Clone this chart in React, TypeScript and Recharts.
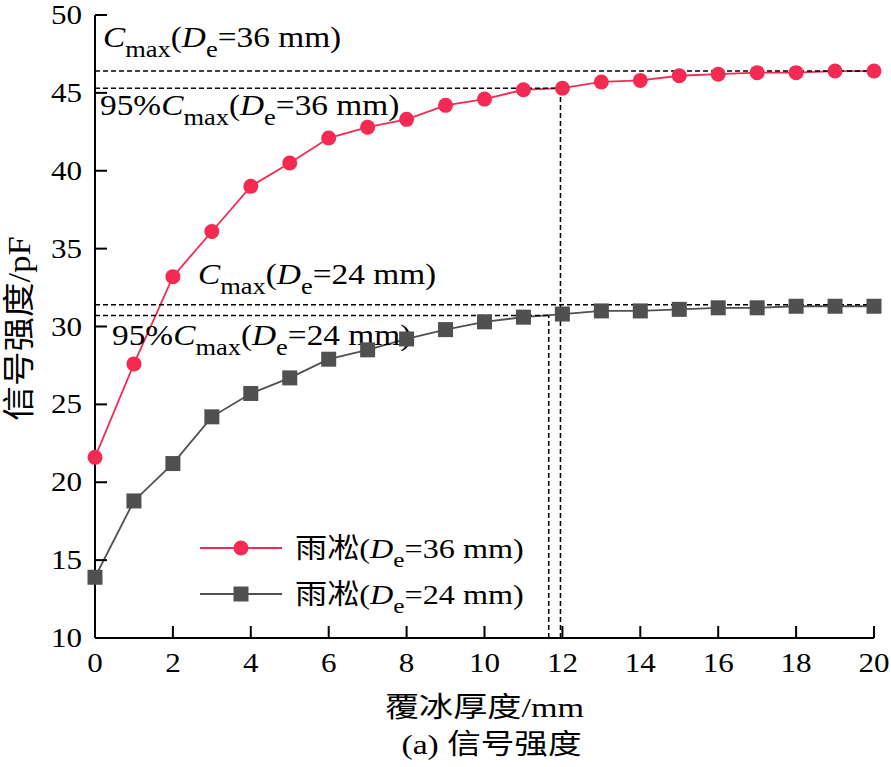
import React from 'react';
import { LineChart, Line, XAxis, YAxis, ReferenceLine, Legend } from 'recharts';

// ---- data ----
const thickness = [0, 1, 2, 3, 4, 5, 6, 7, 8, 9, 10, 11, 12, 13, 14, 15, 16, 17, 18, 19, 20];
const rime36 = [21.6, 27.6, 33.2, 36.1, 39.0, 40.5, 42.1, 42.8, 43.3, 44.2, 44.6, 45.2, 45.3, 45.7, 45.8, 46.1, 46.2, 46.3, 46.3, 46.4, 46.4];
const rime24 = [13.9, 18.8, 21.2, 24.2, 25.7, 26.7, 27.9, 28.5, 29.2, 29.8, 30.3, 30.6, 30.8, 31.0, 31.0, 31.1, 31.2, 31.2, 31.3, 31.3, 31.3];
const xTicks = [0, 2, 4, 6, 8, 10, 12, 14, 16, 18, 20];
const yTicks = [10, 15, 20, 25, 30, 35, 40, 45, 50];
const seriesNames = ['雨凇(De=36 mm)', '雨凇(De=24 mm)'];
const cmax36 = 46.4;
const p95of36 = 45.3;
const xAt95of36 = 11.95;
const cmax24 = 31.4;
const p95of24 = 30.7;
const xAt95of24 = 11.65;
const xLabel = '覆冰厚度/mm';
const yLabel = '信号强度/pF';
const caption = '(a) 信号强度';

const data = thickness.map((t, i) => ({ t, a: rime36[i], b: rime24[i] }));

const RED = '#F42A52';
const GRAY = '#505050';
const SERIF = "'Liberation Serif', 'Noto Sans CJK SC', serif";
const SX = 1.15;

const YTick = (props: any) => {
  const { x, y, payload } = props;
  const ax = x + 10;
  return (
    <g>
      <line x1={ax} x2={ax + 12} y1={y} y2={y} stroke="#000" strokeWidth={2} />
      <g transform={`translate(${x - 3},${y + 9}) scale(${SX},1)`}>
        <text x={0} y={0} textAnchor="end" fontFamily={SERIF} fontSize={27} fill="#000">{payload.value}</text>
      </g>
    </g>
  );
};

const XTick = (props: any) => {
  const { x, y, payload } = props;
  const ay = y - 10;
  return (
    <g>
      <line x1={x} x2={x} y1={ay} y2={ay - 12} stroke="#000" strokeWidth={2} />
      <g transform={`translate(${x},${ay + 34}) scale(${SX},1)`}>
        <text x={0} y={0} textAnchor="middle" fontFamily={SERIF} fontSize={27} fill="#000">{payload.value}</text>
      </g>
    </g>
  );
};

const Formula = ({ x, y, pre, de }: any) => (
  <g transform={`translate(${x},${y}) scale(${SX},1)`}>
    <text x={0} y={0} fontFamily={SERIF} fontSize={29} fill="#000">
      {pre}
      <tspan fontStyle="italic">C</tspan>
      <tspan fontSize={23} dy={10}>max</tspan>
      <tspan dy={-10}>(</tspan>
      <tspan fontStyle="italic">D</tspan>
      <tspan fontSize={23} dy={10}>e</tspan>
      <tspan dy={-10}>{`=${de} mm)`}</tspan>
    </text>
  </g>
);

const SquareDot = (props: any) => {
  const { cx, cy, index } = props;
  return <rect key={`sq-${index}`} x={cx - 7.5} y={cy - 7.5} width={15} height={15} fill={GRAY} />;
};

const renderName = (name: string) => {
  const i = name.indexOf('De');
  const head = name.slice(0, i);
  const tail = name.slice(i + 2);
  return (
    <>
      {head}
      <tspan fontStyle="italic">D</tspan>
      <tspan fontSize={22} dy={9}>e</tspan>
      <tspan dy={-9}>{tail}</tspan>
    </>
  );
};

const LegendContent = (props: any) => {
  const payload = [...(props.payload || [])].sort(
    (p: any, q: any) => seriesNames.indexOf(p.value) - seriesNames.indexOf(q.value)
  );
  return (
    <svg width={360} height={100} style={{ display: 'block' }}>
      {payload.map((p: any, i: number) => {
        const cy = 28 + i * 46;
        const color = p.color;
        const isCircle = p.dataKey === 'a';
        return (
          <g key={i}>
            <line x1={5} x2={87} y1={cy} y2={cy} stroke={color} strokeWidth={1.8} />
            {isCircle ? (
              <circle cx={46} cy={cy} r={7.5} fill={color} />
            ) : (
              <rect x={38.5} y={cy - 7.5} width={15} height={15} fill={color} />
            )}
            <g transform={`translate(100,${cy + 10}) scale(${SX},1)`}>
              <text x={0} y={0} fontFamily={SERIF} fontSize={28} fill="#000">{renderName(p.value)}</text>
            </g>
          </g>
        );
      })}
    </svg>
  );
};

export default function App() {
  return (
    <div style={{ position: 'absolute', left: 0, top: 0, background: '#fff' }}>
      <LineChart width={891} height={767} data={data} margin={{ top: 15, right: 17, left: 0, bottom: 0 }}>
        <XAxis
          dataKey="t"
          type="number"
          domain={[0, 20]}
          ticks={xTicks}
          height={129}
          axisLine={{ stroke: '#000', strokeWidth: 2 }}
          tickLine={false}
          tickSize={0}
          tickMargin={10}
          tick={<XTick />}
          interval={0}
          label={(p: any) => {
            const vb = p.viewBox;
            const cx = vb.x + vb.width / 2;
            return (
              <g>
                <g transform={`translate(${cx},${vb.y + 79}) scale(1.22,1)`}>
                  <text x={0} y={0} textAnchor="middle" fontFamily={SERIF} fontSize={28} fill="#000">{xLabel}</text>
                </g>
                <g transform={`translate(${cx + 7},${vb.y + 116}) scale(1.2,1)`}>
                  <text x={0} y={0} textAnchor="middle" fontFamily={SERIF} fontSize={28} fill="#000">{caption}</text>
                </g>
              </g>
            );
          }}
        />
        <YAxis
          type="number"
          domain={[10, 50]}
          ticks={yTicks}
          width={95}
          axisLine={{ stroke: '#000', strokeWidth: 2 }}
          tickLine={false}
          tickSize={0}
          tickMargin={10}
          tick={<YTick />}
          interval={0}
          label={(p: any) => {
            const vb = p.viewBox;
            const cy = vb.y + vb.height / 2 + 2;
            return (
              <g transform={`translate(${vb.x + 30},${cy}) rotate(-90) scale(1.08,1)`}>
                <text x={0} y={0} textAnchor="middle" fontFamily={SERIF} fontSize={32} fill="#000">{yLabel}</text>
              </g>
            );
          }}
        />
        <Line
          dataKey="a"
          name={seriesNames[0]}
          stroke={RED}
          strokeWidth={1.8}
          dot={{ r: 7.5, fill: RED, stroke: RED, strokeWidth: 0 }}
          activeDot={false}
          isAnimationActive={false}
        />
        <Line
          dataKey="b"
          name={seriesNames[1]}
          stroke={GRAY}
          strokeWidth={1.8}
          dot={<SquareDot />}
          activeDot={false}
          isAnimationActive={false}
        />
        <ReferenceLine
          y={cmax36}
          stroke="#000"
          strokeWidth={1.5}
          strokeDasharray="5 3"
          label={(p: any) => <Formula x={p.viewBox.x + 8} y={p.viewBox.y - 24} pre="" de="36" />}
        />
        <ReferenceLine
          segment={[{ x: 0, y: p95of36 }, { x: xAt95of36, y: p95of36 }]}
          stroke="#000"
          strokeWidth={1.5}
          strokeDasharray="5 3"
          label={(p: any) => <Formula x={p.viewBox.x + 5} y={p.viewBox.y + 27} pre="95%" de="36" />}
        />
        <ReferenceLine
          segment={[{ x: xAt95of36, y: 10 }, { x: xAt95of36, y: p95of36 }]}
          stroke="#000"
          strokeWidth={1.5}
          strokeDasharray="5 3"
        />
        <ReferenceLine
          y={cmax24}
          stroke="#000"
          strokeWidth={1.5}
          strokeDasharray="5 3"
          label={(p: any) => <Formula x={p.viewBox.x + 103} y={p.viewBox.y - 21} pre="" de="24" />}
        />
        <ReferenceLine
          segment={[{ x: 0, y: p95of24 }, { x: xAt95of24, y: p95of24 }]}
          stroke="#000"
          strokeWidth={1.5}
          strokeDasharray="5 3"
          label={(p: any) => <Formula x={p.viewBox.x + 17} y={p.viewBox.y + 29} pre="95%" de="24" />}
        />
        <ReferenceLine
          segment={[{ x: xAt95of24, y: 10 }, { x: xAt95of24, y: p95of24 }]}
          stroke="#000"
          strokeWidth={1.5}
          strokeDasharray="5 3"
        />
        <Legend
          layout="vertical"
          align="center"
          verticalAlign="middle"
          content={<LegendContent />}
          wrapperStyle={{ left: 195, top: 520, width: 360, height: 100 }}
        />
      </LineChart>
    </div>
  );
}
